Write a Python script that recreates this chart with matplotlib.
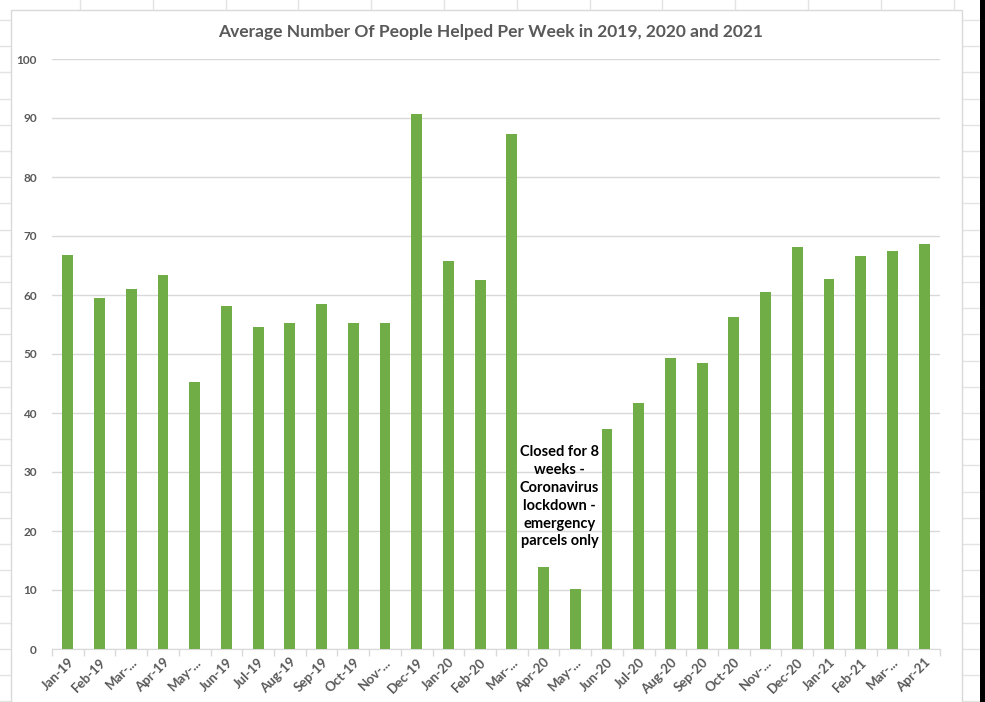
import numpy as np
import matplotlib.pyplot as plt
from matplotlib.lines import Line2D
from matplotlib.patches import Rectangle

months = ['Jan-19', 'Feb-19', 'Mar-...', 'Apr-19', 'May-...', 'Jun-19', 'Jul-19',
          'Aug-19', 'Sep-19', 'Oct-19', 'Nov-...', 'Dec-19', 'Jan-20', 'Feb-20',
          'Mar-...', 'Apr-20', 'May-...', 'Jun-20', 'Jul-20', 'Aug-20', 'Sep-20',
          'Oct-20', 'Nov-...', 'Dec-20', 'Jan-21', 'Feb-21', 'Mar-...', 'Apr-21']
people = [66.7, 59.5, 61.0, 63.4, 45.3, 58.2, 54.5,
          55.3, 58.4, 55.3, 55.3, 90.6, 65.8, 62.5,
          87.3, 13.9, 10.1, 37.3, 41.7, 49.3, 48.4,
          56.2, 60.5, 68.2, 62.7, 66.6, 67.5, 68.6]
y_ticks = list(range(0, 101, 10))
note = 'Closed for 8\nweeks -\nCoronavirus\nlockdown -\nemergency\nparcels only'

W, H = 985, 702
GREEN = '#70AD47'
GREY = '#595959'
LIGHT = '#D9D9D9'
FONT = 'Lato'

fig = plt.figure(figsize=(W / 100, H / 100), dpi=100)


def fx(x):
    return x / W


def fy(y):
    return 1 - y / H


# spreadsheet cells around the chart
cell = '#E3E3E3'
for x in np.arange(80, 962, 72.8):
    fig.add_artist(Line2D([fx(x), fx(x)], [fy(0), fy(10)], color=cell, lw=1, zorder=-3))
for y in np.arange(20, H, 26.2):
    fig.add_artist(Line2D([fx(962), fx(980)], [fy(y), fy(y)], color=cell, lw=1, zorder=-3))
    fig.add_artist(Line2D([fx(0), fx(11)], [fy(y), fy(y)], color=cell, lw=1, zorder=-3))
fig.add_artist(Rectangle((fx(11), fy(H + 5)), fx(962 - 11), fy(10) - fy(H + 5),
                         facecolor='white', edgecolor=LIGHT, lw=1, zorder=-2))
fig.add_artist(Rectangle((fx(980), 0), fx(5), 1, facecolor='black', edgecolor='none',
                         zorder=-2))

ax = fig.add_axes([fx(52), fy(649), fx(940 - 52), fy(59) - fy(649)])
ax.set_facecolor('none')

x = np.arange(len(months))
ax.bar(x, people, width=0.34, color=GREEN, zorder=3)

ax.set_xlim(-0.5, len(months) - 0.5)
ax.set_ylim(0, 100)
ax.set_yticks(y_ticks)
ax.set_yticklabels([str(v) for v in y_ticks], fontsize=8.5, fontweight='bold',
                   color=GREY, fontfamily=FONT)
ax.yaxis.grid(True, color=LIGHT, lw=1, zorder=0)
ax.tick_params(axis='y', length=0, pad=11)

ax.set_xticks(x)
ax.set_xticklabels(months, rotation=45, ha='right', va='top', rotation_mode='anchor',
                   fontsize=9.5, fontweight='bold', color=GREY, fontfamily=FONT)
ax.set_xticks(np.arange(-0.5, len(months)), minor=True)
ax.tick_params(axis='x', which='major', length=0, pad=5)
ax.tick_params(axis='x', which='minor', length=5, color=LIGHT, width=1)

for side in ['top', 'right', 'left']:
    ax.spines[side].set_visible(False)
ax.spines['bottom'].set_color(LIGHT)

ax.text(15.5, 25.8, note, ha='center', va='center', fontsize=10.5, fontweight='bold',
        color='black', fontfamily=FONT, linespacing=1.35)

fig.text(fx(491), fy(32), 'Average Number Of People Helped Per Week in 2019, 2020 and 2021',
         ha='center', va='center', fontsize=12.5, fontweight='bold', color=GREY,
         fontfamily=FONT)

fig.savefig('out.png', dpi=100)
